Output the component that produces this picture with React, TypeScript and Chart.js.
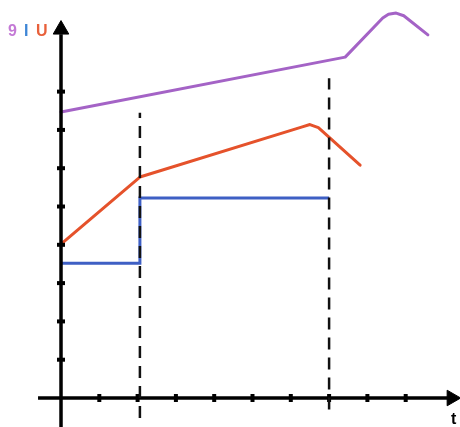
import React, { useEffect, useRef } from "react";
import { Chart, registerables } from "chart.js";

Chart.register(...registerables);

// Curves (x in time ticks, y in axis ticks)
const purpleX = [0, 7.42, 8.4, 8.55, 8.75, 8.95, 9.58];
const purpleY = [7.47, 8.9, 9.92, 10.02, 10.05, 9.98, 9.48];

const orangeX = [0, 2.06, 6.3, 6.5, 6.72, 7.81];
const orangeY = [4.02, 5.77, 7.08, 7.14, 7.06, 6.08];

const blueX = [0, 2.06, 2.06, 7.0];
const blueY = [3.52, 3.52, 5.22, 5.22];

const dash1X = [2.06, 2.06];
const dash1Y = [-0.52, 7.45];
const dash2X = [7.0, 7.0];
const dash2Y = [-0.3, 8.35];

const xTicks = [1, 2, 3, 4, 5, 6, 7, 8, 9];
const yTicks = [1, 2, 3, 4, 5, 6, 7, 8];

const xAxisX = [-0.6, 10.1];
const yAxisY = [-0.8, 9.5];

const zip = (xs: number[], ys: number[]) => xs.map((x, i) => ({ x, y: ys[i] }));

export default function App() {
  const ref = useRef<HTMLCanvasElement | null>(null);
  useEffect(() => {
    document.body.style.margin = "0";
    const ctx = ref.current!;
    const chart = new Chart(ctx, {
      type: "scatter",
      data: {
        datasets: [
          {
            data: zip(dash1X, dash1Y),
            showLine: true,
            borderColor: "#111",
            borderWidth: 2.5,
            borderDash: [12, 8],
            pointRadius: 0,
          },
          {
            data: zip(dash2X, dash2Y),
            showLine: true,
            borderColor: "#111",
            borderWidth: 2.5,
            borderDash: [12, 8],
            pointRadius: 0,
          },
          {
            data: zip(xAxisX, [0, 0]),
            showLine: true,
            borderColor: "#000",
            borderWidth: 3.5,
            pointRadius: 0,
          },
          {
            data: zip([0, 0], yAxisY),
            showLine: true,
            borderColor: "#000",
            borderWidth: 3.5,
            pointRadius: 0,
          },
          {
            data: xTicks.map((x) => ({ x, y: 0 })),
            showLine: false,
            pointStyle: "line",
            rotation: 90,
            pointRadius: 4,
            borderWidth: 4,
            borderColor: "#000",
          },
          {
            data: yTicks.map((y) => ({ x: 0, y })),
            showLine: false,
            pointStyle: "line",
            rotation: 0,
            pointRadius: 4,
            borderWidth: 4,
            borderColor: "#000",
          },
          {
            data: [{ x: 10.2, y: 0 }],
            showLine: false,
            pointStyle: "triangle",
            rotation: 90,
            pointRadius: 9,
            backgroundColor: "#000",
            borderColor: "#000",
          },
          {
            data: [{ x: 0, y: 9.62 }],
            showLine: false,
            pointStyle: "triangle",
            rotation: 0,
            pointRadius: 9,
            backgroundColor: "#000",
            borderColor: "#000",
          },
          {
            data: zip(purpleX, purpleY),
            showLine: true,
            borderColor: "#a463c6",
            borderWidth: 3,
            pointRadius: 0,
            borderJoinStyle: "round",
            borderCapStyle: "round",
          },
          {
            data: zip(orangeX, orangeY),
            showLine: true,
            borderColor: "#e5522b",
            borderWidth: 3,
            pointRadius: 0,
            borderJoinStyle: "round",
            borderCapStyle: "round",
          },
          {
            data: zip(blueX, blueY),
            showLine: true,
            borderColor: "#3e5fc4",
            borderWidth: 3,
            pointRadius: 0,
          },
        ],
      },
      options: {
        animation: false,
        responsive: false,
        maintainAspectRatio: false,
        layout: { padding: 0, autoPadding: false },
        plugins: { legend: { display: false }, tooltip: { enabled: false } },
        scales: {
          x: { type: "linear", display: false, min: -1.593, max: 10.418 },
          y: { type: "linear", display: false, min: -0.757, max: 10.392 },
        },
      },
    });
    return () => chart.destroy();
  }, []);

  const lbl: React.CSSProperties = {
    position: "absolute",
    fontFamily: "'Liberation Sans', Arial, sans-serif",
    fontWeight: "bold",
    fontSize: 16,
    lineHeight: "16px",
  };

  return (
    <div style={{ position: "fixed", left: 0, top: 0, width: 460, height: 427, background: "#fff", overflow: "hidden" }}>
      <canvas ref={ref} width={460} height={427} style={{ position: "absolute", left: 0, top: 0, width: 460, height: 427 }} />
      <span style={{ ...lbl, left: 8, top: 23, color: "#c47ad6" }}>9</span>
      <span style={{ ...lbl, left: 24, top: 23, color: "#3f86d6" }}>I</span>
      <span style={{ ...lbl, left: 36, top: 23, color: "#e8603a" }}>U</span>
      <span style={{ ...lbl, left: 451, top: 411, color: "#000" }}>t</span>
    </div>
  );
}
